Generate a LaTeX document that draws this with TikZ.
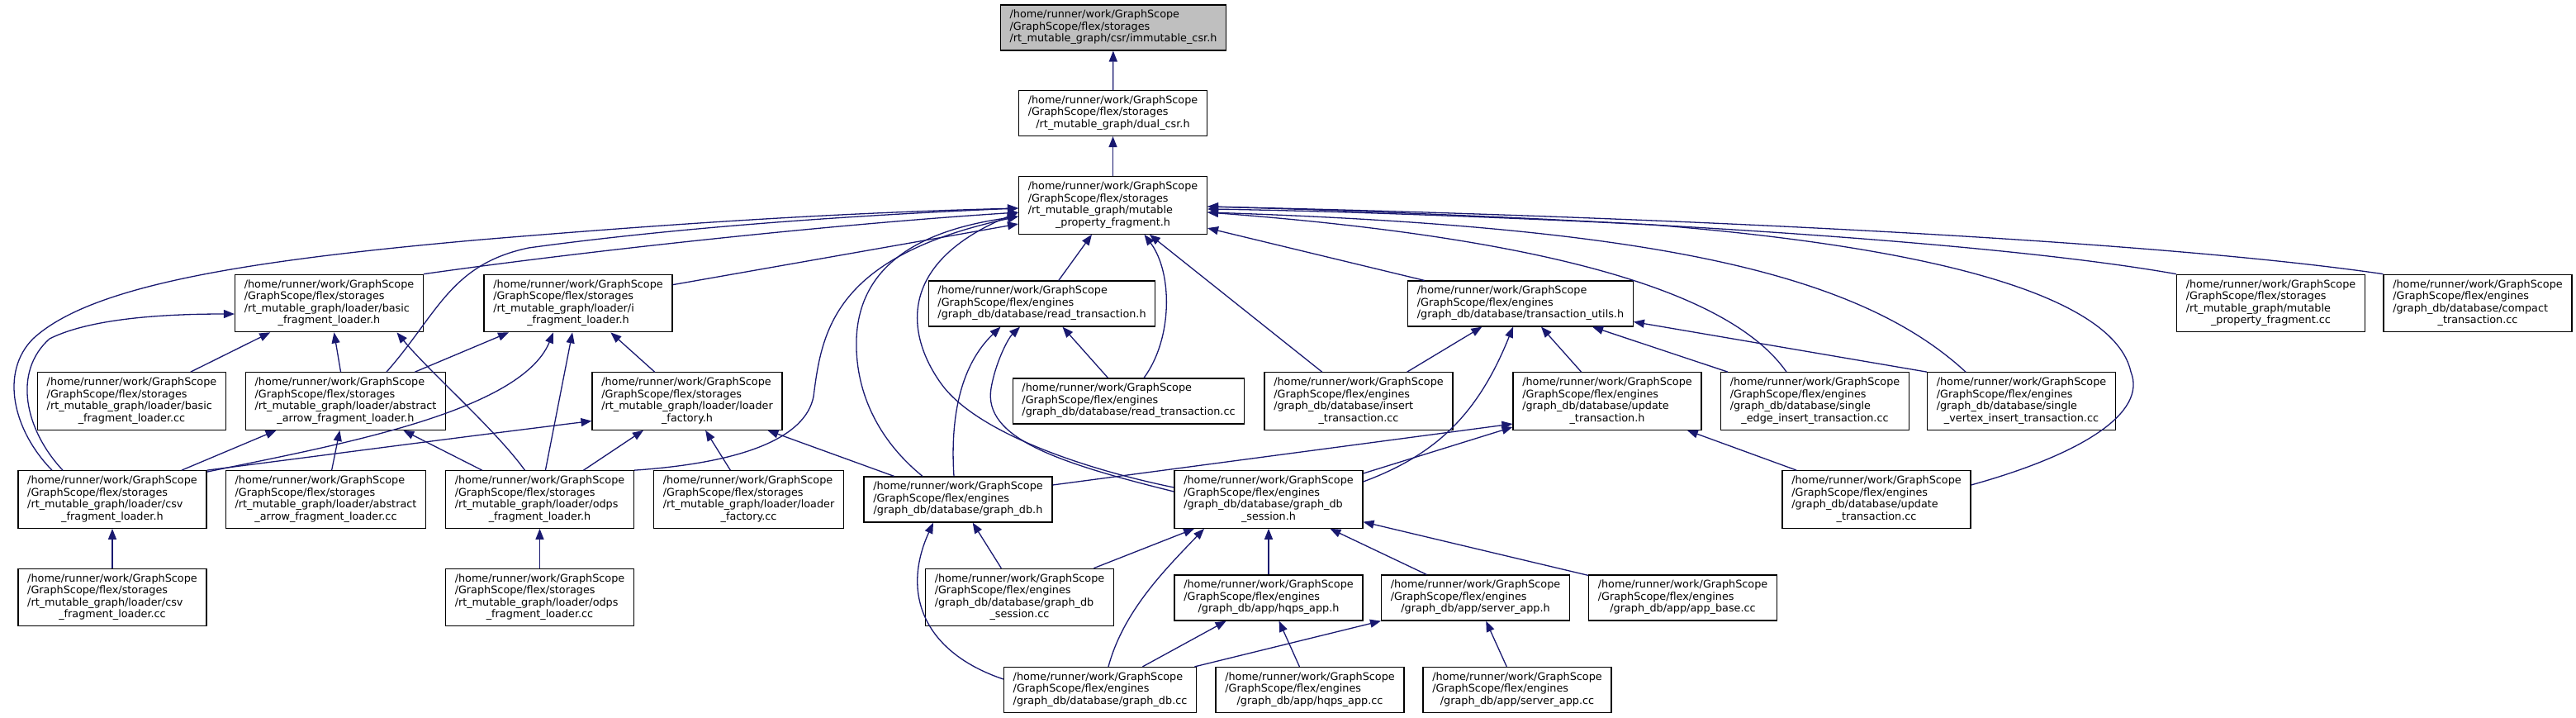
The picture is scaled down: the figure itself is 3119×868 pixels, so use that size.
\documentclass[tikz,border=0pt]{standalone}
\usepackage{fontspec}
\setmainfont{DejaVu Sans}
\usetikzlibrary{arrows.meta}
\definecolor{edgeblue}{HTML}{191970}
\definecolor{rootgray}{HTML}{BFBFBF}
\newcommand{\pHome}{/home/runner/work/GraphScope}
\newcommand{\pSto}{/GraphScope/flex/storages}
\newcommand{\pEng}{/GraphScope/flex/engines}
\newcommand{\nthree}[2]{\begin{tabular}{@{}l@{}}\pHome\\#1\\\multicolumn{1}{@{}c@{}}{#2}\end{tabular}}
\newcommand{\nfour}[3]{\begin{tabular}{@{}l@{}}\pHome\\#1\\#2\\\multicolumn{1}{@{}c@{}}{#3}\end{tabular}}
\tikzset{
  box/.style={draw=black, line width=0.65pt, fill=white, inner xsep=5.575pt, inner ysep=2.85pt,
    font=\fontsize{6.4}{7.25}\selectfont},
  edge/.style={draw=edgeblue, line width=0.65pt, -{Triangle[length=6.5pt,width=5pt]}}
}
\begin{document}
\begin{tikzpicture}[x=0.5pt,y=-0.5pt]
\useasboundingbox (0,0) rectangle (3119,868);
% nodes
\node[box,fill=rootgray] (root) at (1348,33.5) {\nthree{\pSto}{/rt\_mutable\_graph/csr/immutable\_csr.h}};
\node[box] (dual) at (1347.5,137) {\nthree{\pSto}{/rt\_mutable\_graph/dual\_csr.h}};
\node[box] (mpf) at (1347.5,248.5) {\nfour{\pSto}{/rt\_mutable\_graph/mutable}{\_property\_fragment.h}};
\node[box] (bfl) at (398.5,367) {\nfour{\pSto}{/rt\_mutable\_graph/loader/basic}{\_fragment\_loader.h}};
\node[box] (ifl) at (700,367) {\nfour{\pSto}{/rt\_mutable\_graph/loader/i}{\_fragment\_loader.h}};
\node[box] (rth) at (1261.5,367.5) {\nthree{\pEng}{/graph\_db/database/read\_transaction.h}};
\node[box] (tuh) at (1841,367.5) {\nthree{\pEng}{/graph\_db/database/transaction\_utils.h}};
\node[box] (mpfcc) at (2749.5,367) {\nfour{\pSto}{/rt\_mutable\_graph/mutable}{\_property\_fragment.cc}};
\node[box] (compact) at (3000,367) {\nfour{\pEng}{/graph\_db/database/compact}{\_transaction.cc}};
\node[box] (bflcc) at (159.5,485.5) {\nfour{\pSto}{/rt\_mutable\_graph/loader/basic}{\_fragment\_loader.cc}};
\node[box] (aafl) at (418.5,485.5) {\nfour{\pSto}{/rt\_mutable\_graph/loader/abstract}{\_arrow\_fragment\_loader.h}};
\node[box] (lfh) at (832,485.5) {\nfour{\pSto}{/rt\_mutable\_graph/loader/loader}{\_factory.h}};
\node[box] (rtcc) at (1366.5,485.5) {\nthree{\pEng}{/graph\_db/database/read\_transaction.cc}};
\node[box] (inscc) at (1645,485.5) {\nfour{\pEng}{/graph\_db/database/insert}{\_transaction.cc}};
\node[box] (uth) at (1946,485.5) {\nfour{\pEng}{/graph\_db/database/update}{\_transaction.h}};
\node[box] (secc) at (2197.5,485.5) {\nfour{\pEng}{/graph\_db/database/single}{\_edge\_insert\_transaction.cc}};
\node[box] (svcc) at (2447.5,485.5) {\nfour{\pEng}{/graph\_db/database/single}{\_vertex\_insert\_transaction.cc}};
\node[box] (csvh) at (136,604.5) {\nfour{\pSto}{/rt\_mutable\_graph/loader/csv}{\_fragment\_loader.h}};
\node[box] (aaflcc) at (394.5,604.5) {\nfour{\pSto}{/rt\_mutable\_graph/loader/abstract}{\_arrow\_fragment\_loader.cc}};
\node[box] (odpsh) at (653.5,604.5) {\nfour{\pSto}{/rt\_mutable\_graph/loader/odps}{\_fragment\_loader.h}};
\node[box] (lfcc) at (906.5,604.5) {\nfour{\pSto}{/rt\_mutable\_graph/loader/loader}{\_factory.cc}};
\node[box] (gdbh) at (1160,604.5) {\nthree{\pEng}{/graph\_db/database/graph\_db.h}};
\node[box] (gdbsh) at (1536,604.5) {\nfour{\pEng}{/graph\_db/database/graph\_db}{\_session.h}};
\node[box] (utcc) at (2272,604.5) {\nfour{\pEng}{/graph\_db/database/update}{\_transaction.cc}};
\node[box] (csvcc) at (136,723) {\nfour{\pSto}{/rt\_mutable\_graph/loader/csv}{\_fragment\_loader.cc}};
\node[box] (odpscc) at (653.5,723) {\nfour{\pSto}{/rt\_mutable\_graph/loader/odps}{\_fragment\_loader.cc}};
\node[box] (gdbscc) at (1234.5,723) {\nfour{\pEng}{/graph\_db/database/graph\_db}{\_session.cc}};
\node[box] (hqpsh) at (1536,723.5) {\nthree{\pEng}{/graph\_db/app/hqps\_app.h}};
\node[box] (serverh) at (1786.5,723.5) {\nthree{\pEng}{/graph\_db/app/server\_app.h}};
\node[box] (appbase) at (2037.5,723.5) {\nthree{\pEng}{/graph\_db/app/app\_base.cc}};
\node[box] (gdbcc) at (1332,835) {\nthree{\pEng}{/graph\_db/database/graph\_db.cc}};
\node[box] (hqpscc) at (1586,835) {\nthree{\pEng}{/graph\_db/app/hqps\_app.cc}};
\node[box] (servercc) at (1837,835) {\nthree{\pEng}{/graph\_db/app/server\_app.cc}};
% top chain
\draw[edge] (dual) -- (root);
\draw[edge] (mpf) -- (dual);
% into mpf, left side
\draw[edge] ([xshift=-36.5pt]csvh.north) .. controls (15,520) and (0,450) .. (40,410) .. controls (110,345) and (300,315) .. (583,290) .. controls (800,272) and (1000,258) .. ([yshift=-1.75pt]mpf.west);
\draw[edge] ([xshift=24.75pt]aafl.north) .. controls (530,380) and (545,320) .. (640,300) .. controls (800,278) and (1000,262) .. ([yshift=-1.75pt]mpf.west);
\draw[edge] (bfl.north east) .. controls (700,305) and (1000,272) .. ([yshift=-4.25pt]mpf.west);
\draw[edge] ([yshift=-6.5pt]ifl.north east) -- ([yshift=-11.25pt]mpf.west);
\draw[edge] (odpsh.north east) .. controls (900,560) and (975,530) .. (985,480) .. controls (995,400) and (1010,310) .. ([yshift=-6.75pt]mpf.west);
\draw[edge] ([xshift=-21.5pt]gdbh.north) .. controls (1060,530) and (1035,470) .. (1037,410) .. controls (1040,330) and (1100,280) .. ([yshift=-6.75pt]mpf.west);
\draw[edge] ([yshift=7.25pt]gdbsh.west) .. controls (1300,565) and (1180,520) .. (1140,465) .. controls (1100,410) and (1080,320) .. ([yshift=-4.25pt]mpf.west);
% into mpf, bottom
\draw[edge] (rth) -- (mpf);
\draw[edge] ([xshift=9.25pt]rtcc.north) .. controls (1420,410) and (1420,330) .. ([xshift=19pt]mpf.south);
\draw[edge] (inscc) -- (mpf);
\draw[edge] (tuh) -- (mpf);
% into mpf, right side
\draw[edge] (compact.north west) .. controls (2600,290) and (2000,262) .. ([yshift=-0.75pt]mpf.east);
\draw[edge] (mpfcc.north west) .. controls (2400,290) and (1900,262) .. ([yshift=-0.75pt]mpf.east);
\draw[edge] ([xshift=-33.75pt]svcc.north) .. controls (2250,330) and (2000,275) .. ([yshift=-4.25pt]mpf.east);
\draw[edge] ([xshift=-17.25pt]secc.north) .. controls (2100,360) and (1900,290) .. ([yshift=-4.25pt]mpf.east);
\draw[edge] ([yshift=8.75pt]utcc.east) .. controls (2520,550) and (2600,500) .. (2580,450) .. controls (2560,360) and (2350,300) .. (2000,272) .. controls (1800,262) and (1600,255) .. ([yshift=-2.25pt]mpf.east);
% loaders
\draw[edge] (bflcc) -- (bfl);
\draw[edge] (aafl) -- (bfl);
\draw[edge] ([xshift=-9pt]odpsh.north) .. controls (600,520) and (520,450) .. ([xshift=41pt]bfl.south);
\draw[edge] ([xshift=-30pt]csvh.north) .. controls (30,520) and (15,450) .. (60,410) .. controls (110,385) and (200,380) .. ([yshift=-6.5pt]bfl.west);
\draw[edge] (aafl) -- (ifl);
\draw[edge] (odpsh) -- (ifl);
\draw[edge] (lfh) -- (ifl);
\draw[edge] ([yshift=-1pt]csvh.north east) .. controls (400,540) and (630,500) .. ([xshift=-15pt]ifl.south);
\draw[edge] (csvh.north east) .. controls (400,550) and (550,530) .. ([yshift=-12pt]lfh.west);
\draw[edge] (csvh) -- (aafl);
\draw[edge] (aaflcc) -- (aafl);
\draw[edge] (odpsh) -- (aafl);
\draw[edge] (odpsh) -- (lfh);
\draw[edge] (lfcc) -- (lfh);
\draw[edge] (gdbh) -- (lfh);
\draw[edge] (csvcc) -- (csvh);
\draw[edge] (odpscc) -- (odpsh);
% read transaction
\draw[edge] (rtcc) -- (rth);
\draw[edge] ([xshift=-2.5pt]gdbh.north) .. controls (1150,500) and (1165,440) .. ([xshift=-25pt]rth.south);
\draw[edge] ([yshift=4.75pt]gdbsh.west) .. controls (1280,560) and (1190,530) .. (1200,470) .. controls (1205,440) and (1220,410) .. ([xshift=-13.25pt]rth.south);
% transaction utils
\draw[edge] (inscc) -- (tuh);
\draw[edge] (uth) -- (tuh);
\draw[edge] ([yshift=10.75pt]gdbsh.east) .. controls (1740,550) and (1790,500) .. ([xshift=-4.5pt]tuh.south);
\draw[edge] ([xshift=4.5pt]secc.north west) -- ([xshift=43.5pt]tuh.south);
\draw[edge] (svcc.north west) -- ([yshift=-11pt]tuh.east);
% update transaction
\draw[edge] ([yshift=15.75pt]gdbsh.east) -- ([yshift=2pt]uth.south west);
\draw[edge] ([yshift=8.75pt]gdbh.east) -- ([yshift=-13.75pt]uth.west);
\draw[edge] (utcc) -- (uth);
% bottom part
\draw[edge] ([yshift=6.5pt]gdbcc.west) .. controls (1120,790) and (1090,720) .. ([xshift=-15pt]gdbh.south);
\draw[edge] (gdbscc) -- (gdbh);
\draw[edge] (gdbscc) -- (gdbsh);
\draw[edge] ([xshift=5pt]gdbcc.north) .. controls (1360,740) and (1410,690) .. ([xshift=-39pt]gdbsh.south);
\draw[edge] (hqpsh) -- (gdbsh);
\draw[edge] (serverh) -- (gdbsh);
\draw[edge] (appbase) -- (gdbsh);
\draw[edge] (gdbcc) -- (hqpsh);
\draw[edge] (gdbcc) -- (serverh);
\draw[edge] (hqpscc) -- (hqpsh);
\draw[edge] (servercc) -- (serverh);
\end{tikzpicture}
\end{document}
